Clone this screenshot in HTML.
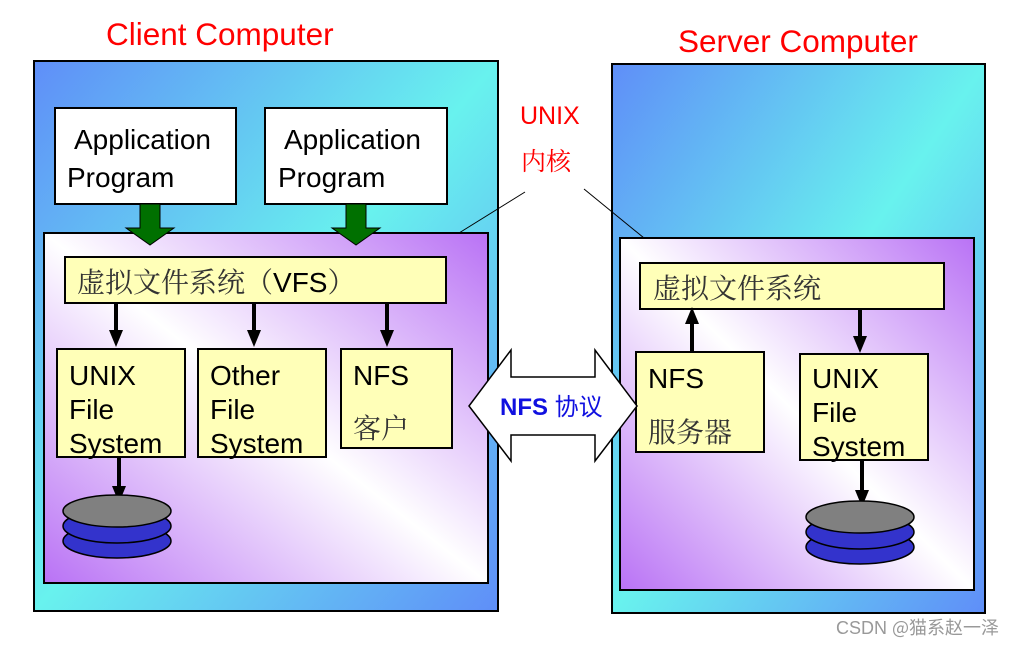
<!DOCTYPE html>
<html><head><meta charset="utf-8"><style>body{margin:0;background:#fff}svg{display:block}</style></head><body>
<svg width="1022" height="645" viewBox="0 0 1022 645" xmlns="http://www.w3.org/2000/svg" font-family="Liberation Sans, Noto Sans CJK SC, sans-serif">
<defs>
<linearGradient id="og" x1="0" y1="0" x2="1" y2="1"><stop offset="0" stop-color="#5f8ef8"/><stop offset="0.5" stop-color="#68f2ee"/><stop offset="1" stop-color="#5f8ef8"/></linearGradient>
<linearGradient id="ig" x1="0" y1="1" x2="1" y2="0"><stop offset="0" stop-color="#b972f5"/><stop offset="0.5" stop-color="#ffffff"/><stop offset="1" stop-color="#b972f5"/></linearGradient>
</defs>
<g fill="#ff0000" font-size="31.5"><text x="106" y="45">Client Computer</text><text x="678" y="52">Server Computer</text></g>
<text x="520" y="124" font-size="25" fill="#ff0000">UNIX</text>
<text x="521" y="170" font-size="25" fill="#ff0000" font-family="Noto Serif CJK SC, serif">内核</text>
<rect x="34" y="61" width="464" height="550" fill="url(#og)" stroke="#000" stroke-width="2"/>
<rect x="44" y="233" width="444" height="350" fill="url(#ig)" stroke="#000" stroke-width="2"/>
<rect x="612" y="64" width="373" height="549" fill="url(#og)" stroke="#000" stroke-width="2"/>
<rect x="620" y="238" width="354" height="352" fill="url(#ig)" stroke="#000" stroke-width="2"/>
<line x1="459" y1="233" x2="525" y2="192" stroke="#000"/><line x1="584" y1="189" x2="644" y2="238" stroke="#000"/>
<g stroke="#000" stroke-width="2" fill="#fff">
<rect x="55" y="108" width="181" height="96"/><rect x="265" y="108" width="182" height="96"/></g>
<g font-size="28" fill="#000"><text x="74" y="149">Application</text><text x="67" y="187">Program</text><text x="284" y="149">Application</text><text x="278" y="187">Program</text></g>
<g fill="#007000" stroke="#000" stroke-width="1"><path d="M140 204h20v24h14l-24 17-24-17h14z"/><path d="M346 204h20v24h14l-24 17-24-17h14z"/></g>
<g fill="#ffffb8" stroke="#000" stroke-width="2">
<rect x="65" y="257" width="381" height="46"/><rect x="57" y="349" width="128" height="108"/><rect x="198" y="349" width="128" height="108"/><rect x="341" y="349" width="111" height="99"/>
<rect x="640" y="263" width="304" height="46"/><rect x="636" y="352" width="128" height="100"/><rect x="800" y="354" width="128" height="106"/></g>
<g font-size="28" fill="#333" font-family="Noto Serif CJK SC, serif"><text x="77" y="292">虚拟文件系统（<tspan font-family="Liberation Sans" fill="#000">VFS</tspan>）</text><text x="653" y="298">虚拟文件系统</text><text x="353" y="438">客户</text><text x="648" y="442">服务器</text></g>
<g font-size="28" fill="#000"><text x="69" y="385">UNIX</text><text x="69" y="419">File</text><text x="69" y="453">System</text><text x="210" y="385">Other</text><text x="210" y="419">File</text><text x="210" y="453">System</text><text x="353" y="385">NFS</text><text x="648" y="388">NFS</text><text x="812" y="388">UNIX</text><text x="812" y="422">File</text><text x="812" y="456">System</text></g>
<g stroke="#000" stroke-width="4"><line x1="116" y1="303" x2="116" y2="335"/><line x1="254" y1="303" x2="254" y2="335"/><line x1="387" y1="303" x2="387" y2="335"/><line x1="860" y1="309" x2="860" y2="340"/><line x1="692" y1="352" x2="692" y2="320"/><line x1="119" y1="457" x2="119" y2="490"/><line x1="862" y1="460" x2="862" y2="495"/></g>
<g fill="#000"><path d="M109 330h14l-7 17z"/><path d="M247 330h14l-7 17z"/><path d="M380 330h14l-7 17z"/><path d="M853 336h14l-7 17z"/><path d="M685 324h14l-7-17z"/><path d="M112 486h14l-7 17z"/><path d="M855 490h14l-7 17z"/></g>
<g stroke="#000" stroke-width="1.5"><ellipse cx="117" cy="541" rx="54" ry="17" fill="#3333cc"/><ellipse cx="117" cy="526" rx="54" ry="17" fill="#3333cc"/><ellipse cx="117" cy="511" rx="54" ry="16" fill="#808080"/>
<ellipse cx="860" cy="547" rx="54" ry="17" fill="#3333cc"/><ellipse cx="860" cy="532" rx="54" ry="17" fill="#3333cc"/><ellipse cx="860" cy="517" rx="54" ry="16" fill="#808080"/></g>
<path d="M469 406L511 350V377H595V350L637 406L595 461V435H511V461Z" fill="#fff" stroke="#000" stroke-width="1.5"/>
<text x="500" y="415" font-size="24" fill="#1010e0"><tspan font-weight="bold">NFS</tspan> <tspan font-family="Noto Sans CJK SC, sans-serif">协议</tspan></text>
<text x="836" y="634" font-size="18" fill="#999">CSDN <tspan font-family="Noto Sans CJK SC, sans-serif">@猫系赵一泽</tspan></text>
</svg>
</body></html>
